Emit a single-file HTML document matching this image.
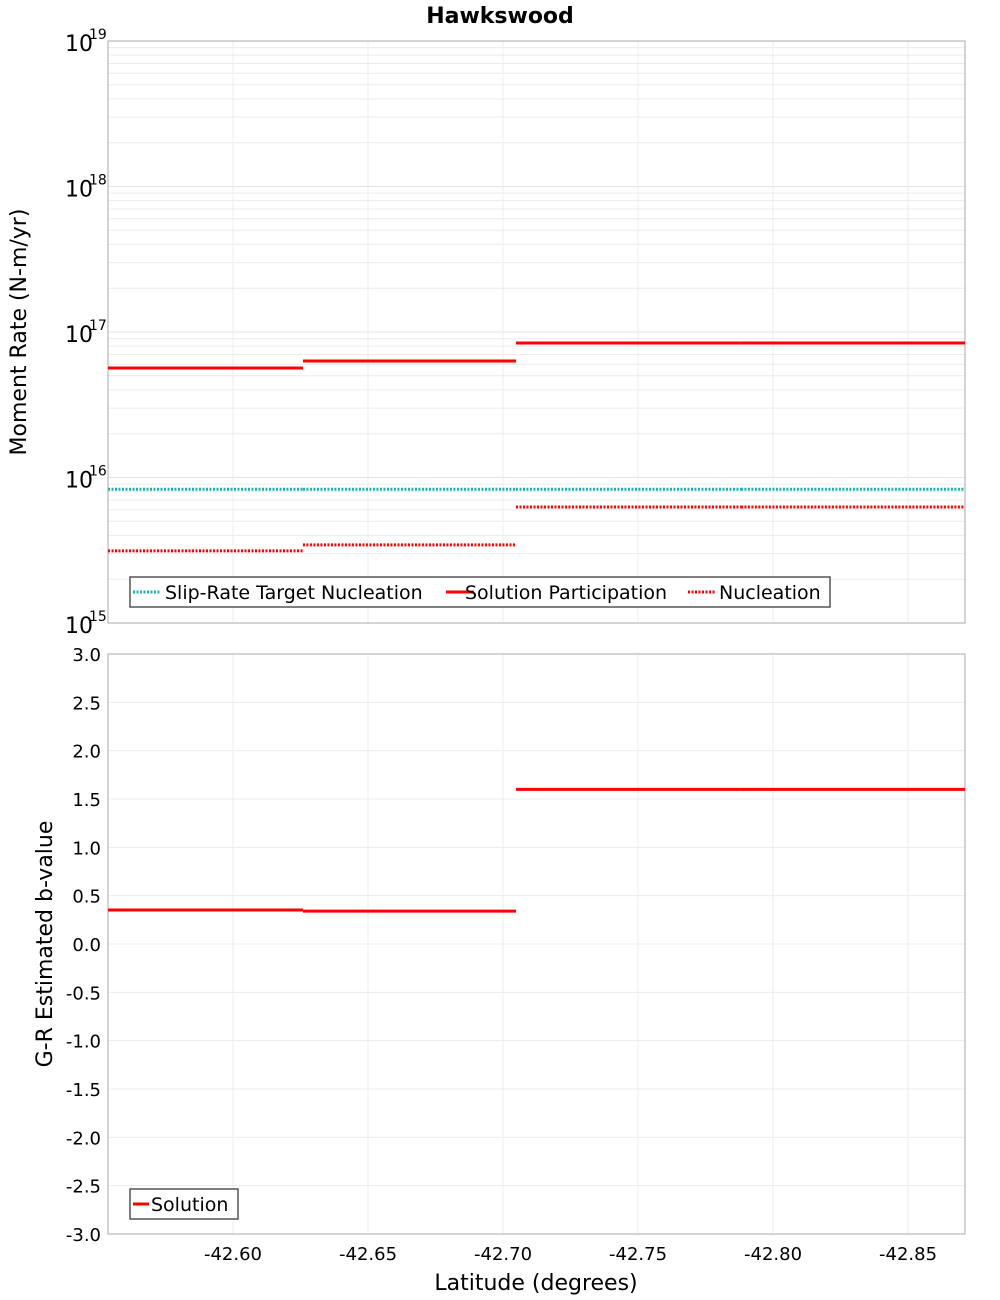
<!DOCTYPE html>
<html><head><meta charset="utf-8"><style>
body{margin:0;background:#fff}
svg{display:block;font-family:"DejaVu Sans","Liberation Sans",sans-serif}
</style></head><body>
<svg id="c" width="1000" height="1300" xmlns="http://www.w3.org/2000/svg">
<text x="500" y="23" text-anchor="middle" font-size="22" font-weight="bold">Hawkswood</text>
<g id="topPanel"></g>
<g id="botPanel"></g>
<text x="26" y="332" transform="rotate(-90 26 332)" text-anchor="middle" font-size="22">Moment Rate (N-m/yr)</text>
<text x="52" y="944" transform="rotate(-90 52 944)" text-anchor="middle" font-size="22">G-R Estimated b-value</text>
<text x="536" y="1290" text-anchor="middle" font-size="22">Latitude (degrees)</text>
</svg>
<script>
const segStarts=[-42.5537,-42.6259,-42.7048,-42.7881];
const segEnds=[-42.6259,-42.7048,-42.7881,-42.8711];
const participation=[5.66e16,6.32e16,8.4e16,8.4e16];
const target=[8.3e15,8.3e15,8.3e15,8.3e15];
const nucleation=[3.13e15,3.44e15,6.27e15,6.27e15];
const bValues=[0.352,0.34,1.6,1.6];
const xTicks=[-42.60,-42.65,-42.70,-42.75,-42.80,-42.85];
const xTickLabels=["-42.60","-42.65","-42.70","-42.75","-42.80","-42.85"];
const logTicks=[15,16,17,18,19];
const bTicks=[-3,-2.5,-2,-1.5,-1,-0.5,0,0.5,1,1.5,2,2.5,3];

const NS="http://www.w3.org/2000/svg";
const L=108,R=965,T1=41,B1=623,T2=654,B2=1234;
const xMin=-42.5537,xMax=-42.8711;
const sx=v=>L+(v-xMin)/(xMax-xMin)*(R-L);
const sy1=v=>B1-(Math.log10(v)-15)/4*(B1-T1);
const sy2=v=>B2-(v+3)/6*(B2-T2);
function mk(p,tag,a){const e=document.createElementNS(NS,tag);for(const k in a)e.setAttribute(k,a[k]);p.appendChild(e);return e;}
const topG=document.getElementById('topPanel'),botG=document.getElementById('botPanel');

for(let d=15;d<19;d++)for(let m=2;m<10;m++){const y=sy1(m*Math.pow(10,d));
const g=mk(topG,'line',{x1:L,x2:R,y1:y,y2:y,stroke:'#ececec','stroke-width':1});

}
logTicks.forEach(t=>{const y=sy1(Math.pow(10,t));
const g=mk(topG,'line',{x1:L,x2:R,y1:y,y2:y,stroke:'#e4e4e4'});


const tx=mk(topG,'text',{x:65,y:y+10,'font-size':22});tx.textContent='10';


const ex=mk(topG,'text',{x:89,y:y-2,'font-size':14});ex.textContent=String(t);

});
bTicks.forEach(t=>{const y=sy2(t);
const g=mk(botG,'line',{x1:L,x2:R,y1:y,y2:y,stroke:'#ececec'});


const tx=mk(botG,'text',{x:101,y:y+7,'font-size':18,'text-anchor':'end'});tx.textContent=t.toFixed(1);

});
xTicks.forEach((t,i)=>{const x=sx(t);
[[T1,B1,topG],[T2,B2,botG]].forEach(([a,b,p])=>{const g=mk(p,'line',{x1:x,x2:x,y1:a,y2:b,stroke:'#ececec'});

});
const tx=mk(botG,'text',{x:x,y:1260,'font-size':18,'text-anchor':'middle'});tx.textContent=xTickLabels[i];

});
const f1=mk(topG,'rect',{x:L,y:T1,width:R-L,height:B1-T1,fill:'none',stroke:'#aaa'});


const f2=mk(botG,'rect',{x:L,y:T2,width:R-L,height:B2-T2,fill:'none',stroke:'#aaa'});


function seg(p,arr,sy,color,dash,name){arr.forEach((v,i)=>{const y=sy(v);
const a={x1:sx(segStarts[i]),x2:sx(segEnds[i]),y1:y,y2:y,stroke:color,'stroke-width':3};
if(dash)a['stroke-dasharray']=dash;
const l=mk(p,'line',a);

});}
seg(topG,target,sy1,'#17b3b3','2 1.5','slip-rate-target-segment');
seg(topG,nucleation,sy1,'#ff0000','2 1.5','nucleation-segment');
seg(topG,participation,sy1,'#ff0000',null,'participation-segment');
seg(botG,bValues,sy2,'#ff0000',null,'b-value-segment');
const lg=mk(topG,'g',{});


mk(lg,'rect',{x:130,y:577,width:700,height:30,fill:'#fff',stroke:'#555','stroke-width':1.5});
[[133,'#17b3b3','2 1.5',165,'Slip-Rate Target Nucleation'],[446,'#ff0000',null,465,'Solution Participation'],[688,'#ff0000','2 1.5',719,'Nucleation']].forEach(([x,c,d,tx,t])=>{
const a={x1:x,x2:x+28,y1:592,y2:592,stroke:c,'stroke-width':3};if(d)a['stroke-dasharray']=d;mk(lg,'line',a);
const e=mk(lg,'text',{x:tx,y:599,'font-size':19});e.textContent=t;

});
const lg2=mk(botG,'g',{});


mk(lg2,'rect',{x:130,y:1189,width:108,height:30,fill:'#fff',stroke:'#555','stroke-width':1.5});
mk(lg2,'line',{x1:133,x2:149,y1:1204,y2:1204,stroke:'#ff0000','stroke-width':3});
const e2=mk(lg2,'text',{x:151,y:1211,'font-size':19});e2.textContent='Solution';


</script>
</body></html>
